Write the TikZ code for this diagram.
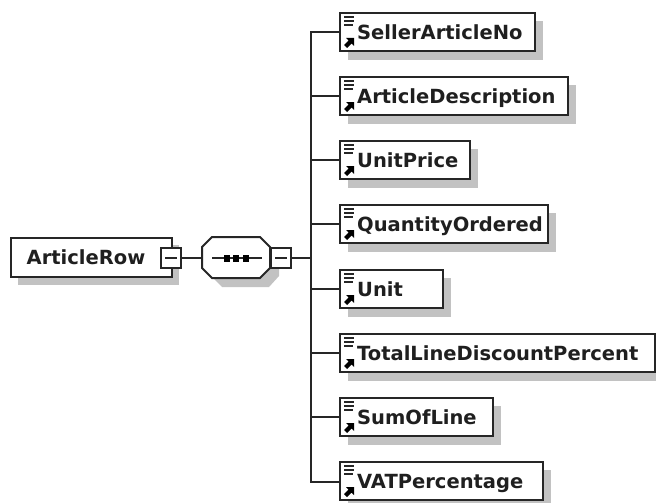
\documentclass[tikz,border=0pt]{standalone}
\usepackage{fontspec}
\setmainfont{DejaVu Sans}[BoldFont={DejaVu Sans Bold}]
\tikzset{
  x=1pt,y=-1pt,
  shadowfill/.style={fill=black!24,draw=none},
  line/.style={draw=black!85,line width=2pt},
  boxline/.style={draw=black!85,line width=2pt,fill=white},
  lbl/.style={font=\fontsize{19.5}{21}\selectfont\bfseries,text=black!88,inner sep=0pt,anchor=base west},
  pt/.style={inner sep=0pt,minimum size=0pt},
}
\newcommand{\elembox}[4]{% name, y top, right x, text
  \fill[shadowfill] (348,#2+8) rectangle (#3+8,#2+47);
  \draw[boxline] (340,#2) rectangle (#3,#2+38);
  \coordinate (#1) at (340,#2+19);
  \draw[black!85,line width=1.3pt] (344,#2+4) -- (354,#2+4) (344,#2+8) -- (354,#2+8) (344,#2+12) -- (353,#2+12);
  \fill[black] (354,#2+25) -- (354,#2+33) -- (351.5,#2+30.5) -- (347,#2+35) -- (344,#2+32) -- (348.5,#2+27.5) -- (346,#2+25) -- cycle;
  \node[lbl] (#1t) at (357,#2+26.5) {#4};
}
\begin{document}
\begin{tikzpicture}
\useasboundingbox (0,0) rectangle (656,503);
\fill[white] (0,0) rectangle (656,503);
% trunk and branches
\coordinate (top) at (311,32.5);
\coordinate (bot) at (311,482);
\coordinate (jun) at (311,258);
\draw[line,line join=miter] (340,32.5) -- (top) -- (bot) -- (340,482);
\elembox{a}{13}{535}{SellerArticleNo}
\elembox{b}{77}{568}{ArticleDescription}
\elembox{c}{141}{470}{UnitPrice}
\elembox{d}{205}{548}{QuantityOrdered}
\elembox{e}{270}{443}{Unit}
\elembox{f}{334}{655}{TotalLineDiscountPercent}
\elembox{g}{398}{493}{SumOfLine}
\elembox{h}{462}{543}{VATPercentage}
\foreach \n in {b,c,d,e,f,g}{\draw[line] (\n) -- (\n -| top);}
% root
\fill[shadowfill] (18,245) rectangle (179,285);
\fill[shadowfill] (171,256) rectangle (179,276);
\node[pt,draw=black!85,line width=2pt,fill=white,minimum width=161pt,minimum height=39pt,anchor=north west] (root) at (10,237) {};
\node[lbl,anchor=base] (roott) at (86,264.5) {ArticleRow};
\node[pt,draw=black!85,line width=2pt,fill=white,minimum width=20pt,minimum height=20pt] (m1) at (171,258) {};
\draw[black!85,line width=1.3pt] (165,258) -- (177,258);
% sequence compositor
\fill[shadowfill] (222,245) -- (262,245) -- (279,262) -- (279,276) -- (269,287) -- (222,287) -- (212,277) -- cycle;
\draw[boxline] (212,237) -- (260,237) -- (270,247) -- (270,268) -- (260,278) -- (212,278) -- (202,268) -- (202,247) -- cycle;
\coordinate (seqw) at (202,258);
\draw[black!85,line width=1.3pt] (212,258) -- (262,258);
\foreach \x in {227,236,246}{\fill[black] (\x-3,255) rectangle (\x+3,262);}
\node[pt,draw=black!85,line width=2pt,fill=white,minimum width=20pt,minimum height=20pt] (m2) at (281,258) {};
\draw[black!85,line width=1.3pt] (275,258) -- (287,258);
\draw[line] (m1) -- (seqw);
\draw[line] (m2) -- (jun);
\end{tikzpicture}
\end{document}
